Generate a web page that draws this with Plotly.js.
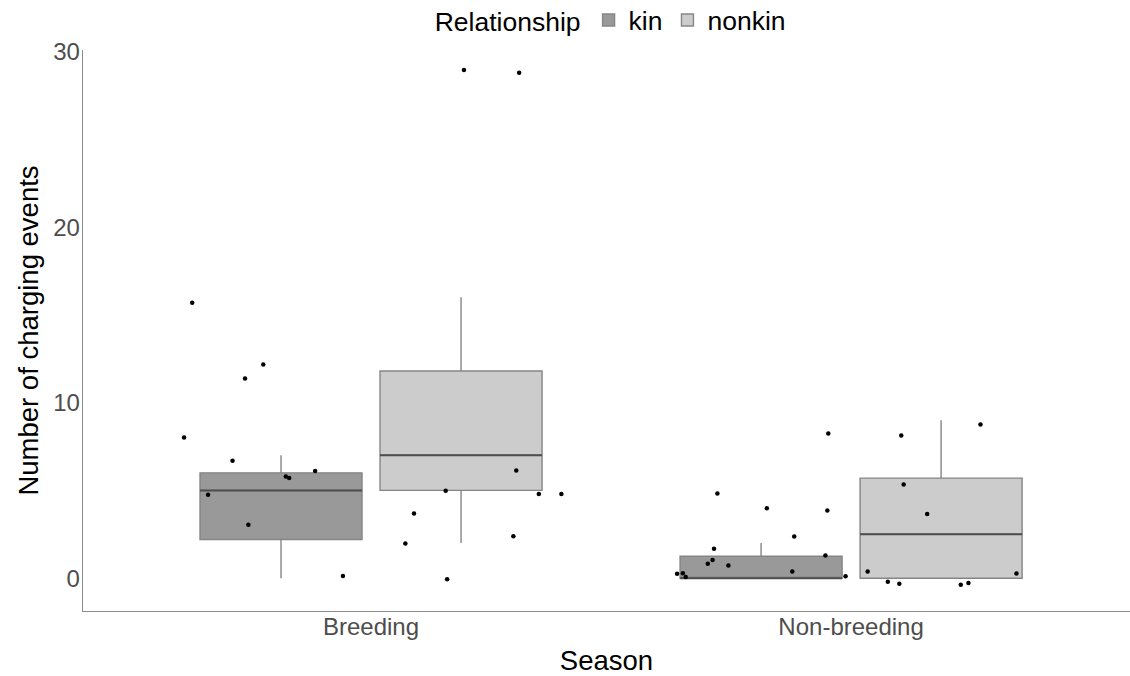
<!DOCTYPE html>
<html>
<head>
<meta charset="utf-8">
<script src="https://cdn.plot.ly/plotly-3.0.1.min.js"></script>
<style>html,body{margin:0;padding:0;background:#fff;}#chart{width:1130px;height:676px;}</style>
</head>
<body>
<div id="chart"></div>
<script>
// Categories and groups
const seasons = ['Breeding', 'Non-breeding'];
const groups = ['kin', 'nonkin'];

// Box statistics per season (Breeding, Non-breeding)
const kinQ1 = [2.2, 0];
const kinMedian = [5, 0];
const kinQ3 = [6, 1.25];
const kinLower = [0, 0];
const kinUpper = [7, 2];

const nonkinQ1 = [5, 0];
const nonkinMedian = [7, 2.5];
const nonkinQ3 = [11.8, 5.7];
const nonkinLower = [2, 0];
const nonkinUpper = [16, 9];

// Jittered raw points: horizontal jitter (offset within group) and jittered value
const kinBreedJit = [-0.185, -0.037, -0.075, -0.202, -0.101, 0.010, 0.017, 0.071, -0.152, -0.068, 0.129];
const kinBreedY   = [15.69, 12.18, 11.38, 8.02, 6.69, 5.79, 5.70, 6.10, 4.75, 3.04, 0.13];

const nonkinBreedJit = [0.115, -0.032, 0.162, 0.209, -0.098, -0.116, 0.109, -0.029, 0.006, 0.121];
const nonkinBreedY   = [6.14, 4.98, 4.79, 4.79, 3.69, 1.98, 2.39, -0.06, 28.95, 28.8];

const kinNonJit = [-0.091, 0.012, 0.138, 0.140, 0.069, -0.098, 0.134, -0.101, -0.111, -0.068, 0.065, -0.175, -0.163, -0.157, 0.176];
const kinNonY   = [4.83, 3.99, 3.86, 8.24, 2.38, 1.67, 1.29, 1.03, 0.82, 0.72, 0.38, 0.25, 0.28, 0.06, 0.11];

const nonkinNonJit = [-0.083, 0.082, -0.078, -0.029, -0.153, 0.157, -0.111, -0.087, 0.041, 0.057];
const nonkinNonY   = [8.13, 8.76, 5.34, 3.66, 0.38, 0.27, -0.21, -0.32, -0.38, -0.28];

// Styling / positioning
const dodge = 0.1875;
const boxW = 0.3375;
const fills = {kin: '#999999', nonkin: '#cccccc'};
const font = 'Liberation Sans, Arial, sans-serif';

const stats = {
  kin: {q1: kinQ1, median: kinMedian, q3: kinQ3, lower: kinLower, upper: kinUpper, off: -dodge},
  nonkin: {q1: nonkinQ1, median: nonkinMedian, q3: nonkinQ3, lower: nonkinLower, upper: nonkinUpper, off: dodge}
};

const traces = [];
groups.forEach(g => {
  const s = stats[g];
  traces.push({
    type: 'box',
    name: g,
    legendgroup: g,
    x: seasons.map((_, i) => i + 1 + s.off),
    q1: s.q1, median: s.median, q3: s.q3,
    lowerfence: s.lower, upperfence: s.upper,
    width: boxW,
    whiskerwidth: 0,
    boxpoints: false,
    fillcolor: fills[g],
    line: {color: '#858585', width: 1.4},
    hoverinfo: 'skip'
  });
});

// Darker median lines drawn over the boxes (ggplot style)
groups.forEach(g => {
  const s = stats[g];
  const xs = [], ys = [];
  seasons.forEach((_, i) => {
    const c = i + 1 + s.off;
    xs.push(c - boxW / 2, c + boxW / 2, null);
    ys.push(s.median[i], s.median[i], null);
  });
  traces.push({
    type: 'scatter', mode: 'lines', x: xs, y: ys,
    line: {color: '#4d4d4d', width: 2},
    showlegend: false, hoverinfo: 'skip', legendgroup: g
  });
});

const pointSets = [
  {jit: kinBreedJit, y: kinBreedY, season: 0, off: -dodge},
  {jit: nonkinBreedJit, y: nonkinBreedY, season: 0, off: dodge},
  {jit: kinNonJit, y: kinNonY, season: 1, off: -dodge},
  {jit: nonkinNonJit, y: nonkinNonY, season: 1, off: dodge}
];
pointSets.forEach(p => {
  traces.push({
    type: 'scatter',
    mode: 'markers',
    x: p.jit.map(j => p.season + 1 + p.off + j),
    y: p.y,
    marker: {color: '#000000', size: 4.5},
    showlegend: false,
    hoverinfo: 'skip'
  });
});

const layout = {
  width: 1130, height: 676,
  margin: {l: 83, r: 0, t: 50, b: 65},
  paper_bgcolor: '#ffffff',
  plot_bgcolor: '#ffffff',
  font: {family: font, color: '#000'},
  showlegend: true,
  legend: {
    orientation: 'h',
    x: 0.505, xanchor: 'center',
    yref: 'container',
    y: 0.97, yanchor: 'middle',
    title: {text: 'Relationship', side: 'left', font: {size: 26.5, color: '#000', family: font}},
    font: {size: 26.5, color: '#000', family: font},
    itemwidth: 30,
    tracegroupgap: 0
  },
  xaxis: {
    range: [0.4, 2.581],
    tickvals: [1, 2],
    ticktext: seasons,
    showgrid: false, zeroline: false,
    showline: true, linecolor: '#8c8c8c', linewidth: 1.3,
    ticks: '',
    ticklabelstandoff: -6,
    tickfont: {size: 24, color: '#4d4d4d', family: font},
    title: {text: 'Season', font: {size: 27.5, color: '#000', family: font}, standoff: 12}
  },
  yaxis: {
    range: [-1.87, 30.09],
    tickvals: [0, 10, 20, 30],
    showgrid: false, zeroline: false,
    showline: true, linecolor: '#8c8c8c', linewidth: 1.3,
    ticks: '',
    ticklabelstandoff: -3,
    tickfont: {size: 24, color: '#4d4d4d', family: font},
    title: {text: 'Number of charging events', font: {size: 27.5, color: '#000', family: font}, standoff: 6}
  }
};

Plotly.newPlot('chart', traces, layout, {displayModeBar: false, staticPlot: true});
</script>
</body>
</html>
